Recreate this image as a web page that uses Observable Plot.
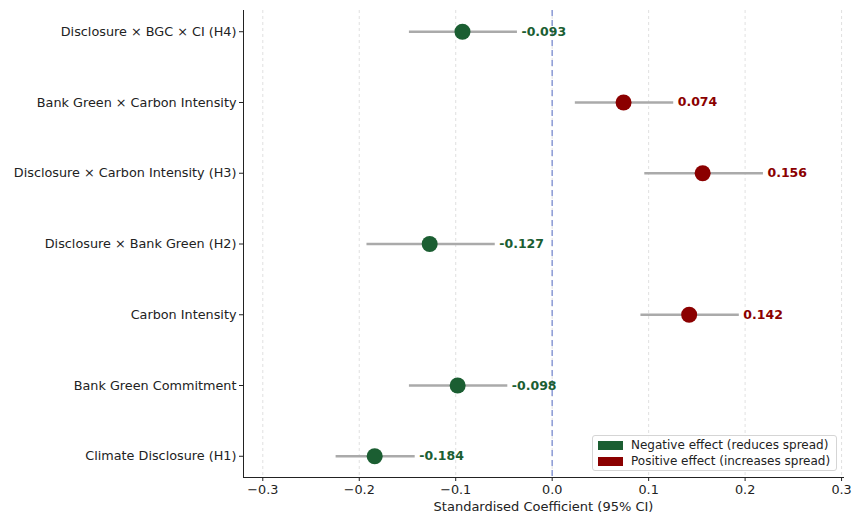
<!DOCTYPE html>
<html><head><meta charset="utf-8">
<script src="https://cdn.jsdelivr.net/npm/d3@7"></script>
<script src="https://cdn.jsdelivr.net/npm/@observablehq/plot@0.6"></script>
<style>
body{margin:0;background:#fff;font-family:"DejaVu Sans",sans-serif;}
#wrap{position:relative;width:852px;height:519px;}
#legend{position:absolute;left:592px;top:435px;width:245px;height:36px;border:1px solid #d5d5d5;border-radius:3px;background:rgba(255,255,255,0.85);font-size:12px;color:#222;box-sizing:border-box;}
.item{position:absolute;left:5px;display:flex;align-items:center;}
.sw{width:25px;height:9px;margin-right:8px;}
</style></head>
<body><div id="wrap"><div id="legend"></div></div>
<script>
const terms = ["Disclosure × BGC × CI (H4)","Bank Green × Carbon Intensity","Disclosure × Carbon Intensity (H3)","Disclosure × Bank Green (H2)","Carbon Intensity","Bank Green Commitment","Climate Disclosure (H1)"];
const coef = [-0.093, 0.074, 0.156, -0.127, 0.142, -0.098, -0.184];
const ciLow = [-0.148, 0.024, 0.096, -0.192, 0.092, -0.148, -0.224];
const ciHigh = [-0.036, 0.126, 0.219, -0.059, 0.194, -0.046, -0.142];
const xTicks = [-0.3, -0.2, -0.1, 0.0, 0.1, 0.2, 0.3];
const legendLabels = ["Negative effect (reduces spread)", "Positive effect (increases spread)"];
const GREEN = "#1b5e32", RED = "#8b0000";

const data = terms.map((t,i)=>({term:t, coef:coef[i], lo:ciLow[i], hi:ciHigh[i]}));
const col = d => d.coef < 0 ? GREEN : RED;
const fmt = d3.format(".1f");

const chart = Plot.plot({
  width: 852, height: 519,
  marginLeft: 243, marginRight: 9, marginTop: 10, marginBottom: 42,
  style: {fontFamily: "DejaVu Sans, sans-serif", fontSize: "12.8px", color: "#222", background: "#fff"},
  x: {domain: [-0.32, 0.302], label: null},
  y: {type: "point", domain: terms, padding: 0.3, round: false, label: null},
  marks: [
    Plot.gridX(xTicks, {stroke: "#d8d8d8", strokeDasharray: "3,3", strokeOpacity: 0.8}),
    Plot.ruleX([0], {stroke: "#8c9bd6", strokeWidth: 1.5, strokeDasharray: "6,4"}),
    Plot.ruleY(data, {y: "term", x1: "lo", x2: "hi", stroke: "#aaaaaa", strokeWidth: 2.5}),
    Plot.dot(data, {y: "term", x: "coef", r: 8, fill: col, stroke: "none"}),
    Plot.text(data, {y: "term", x: "hi", text: d => d.coef.toFixed(3), dx: 4, textAnchor: "start", fill: col, fontWeight: "bold", fontSize: 12.5}),
    Plot.axisX({ticks: xTicks, tickFormat: fmt, tickSize: 4, tickPadding: 3, label: null}),
    Plot.axisX({ticks: [], label: "Standardised Coefficient (95% CI)", labelAnchor: "center", labelArrow: "none", labelOffset: 33, fontSize: 13}),
    Plot.axisY({tickSize: 4, tickPadding: 3, label: null}),
    Plot.frame({anchor: "bottom", stroke: "#222"}),
    Plot.frame({anchor: "left", stroke: "#222"})
  ]
});
document.getElementById("wrap").prepend(chart);
chart.style.display = "block";

const leg = document.getElementById("legend");
[GREEN, RED].forEach((c,i)=>{
  const it = document.createElement("div");
  it.className = "item";
  it.style.top = (2 + i*16) + "px";
  it.innerHTML = `<span class="sw" style="background:${c}"></span><span>${legendLabels[i]}</span>`;
  leg.appendChild(it);
});
</script></body></html>
